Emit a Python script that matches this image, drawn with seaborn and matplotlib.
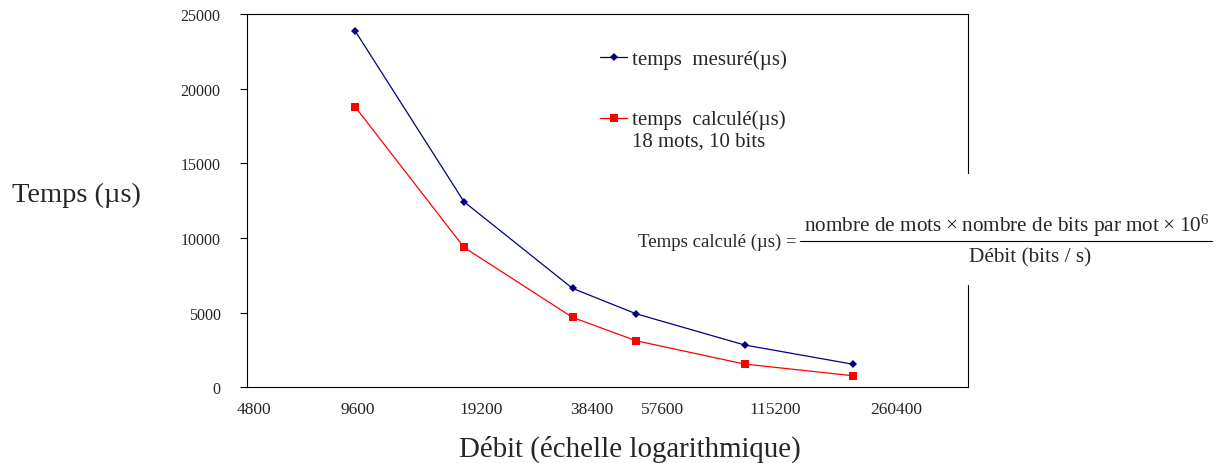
import matplotlib
matplotlib.use('Agg')
import numpy as np
import pandas as pd
import matplotlib.pyplot as plt
import seaborn as sns
from matplotlib.legend_handler import HandlerLine2D
from matplotlib.patches import Rectangle
from matplotlib.lines import Line2D

# données
debit = [9600, 19200, 38400, 57600, 115200, 230400]
temps_mesure = [23830, 12430, 6630, 4930, 2840, 1550]
temps_calcule = [18750, 9375, 4687.5, 3125, 1562.5, 781.25]

label_mesure = 'temps  mesuré(µs)'
label_calcule = 'temps  calculé(µs)\n18 mots, 10 bits'

x_labels = ['4800', '9600', '19200', '38400', '57600', '115200', '260400']
x_label_pos = [5020, 9755, 21400, 43500, 68000, 140000, 303400]
x_major = [4800, 9600, 19200, 38400, 57600, 115200, 230400, 460800]
x_minor = [14400, 24000, 28800, 33600, 43200, 48000, 96000, 144000, 192000,
           240000, 288000, 336000, 384000, 432000]
y_ticks = [0, 5000, 10000, 15000, 20000, 25000]

df = pd.DataFrame({
    'debit': debit * 2,
    'temps': temps_mesure + temps_calcule,
    'serie': [label_mesure] * len(debit) + [label_calcule] * len(debit),
})


class HandlerDecale(HandlerLine2D):
    # marqueur aligné sur la première ligne du libellé
    def create_artists(self, legend, orig_handle, xdescent, ydescent, width, height, fontsize, trans):
        artists = super().create_artists(legend, orig_handle, xdescent, ydescent,
                                         width, height, fontsize, trans)
        for a in artists:
            a.set_ydata(np.asarray(a.get_ydata()) + 8.5)
        return artists


sns.set_style('white')
plt.rcParams['font.family'] = ['Liberation Serif', 'DejaVu Serif']
plt.rcParams['mathtext.fontset'] = 'custom'
plt.rcParams['mathtext.rm'] = 'Liberation Serif'
plt.rcParams['mathtext.it'] = 'Liberation Serif:italic'

fig = plt.figure(figsize=(12.19, 4.64), dpi=100)
ax = fig.add_axes([0.2026, 0.1629, 0.5915, 0.8048])

sns.lineplot(data=df, x='debit', y='temps', hue='serie', style='serie',
             palette=['#000080', '#FF0000'], markers=['D', 's'], dashes=False,
             linewidth=0.9, markeredgewidth=0, ax=ax)
ax.lines[0].set_markersize(4.5)
ax.lines[1].set_markersize(5.2)

ax.set_xscale('log')
ax.set_xlim(4800, 480000)
ax.set_ylim(0, 25000)

ax.set_xticks(x_major)
ax.set_xticklabels([''] * len(x_major))
ax.set_xticks(x_minor, minor=True)
ax.set_xticklabels([''] * len(x_minor), minor=True)
ax.tick_params(axis='x', which='major', direction='inout', length=7, width=0.8, color='black')
ax.tick_params(axis='x', which='minor', direction='inout', length=4, width=0.8, color='black')

ax.set_yticks(y_ticks)
ax.set_yticklabels([str(v) for v in y_ticks])
ax.tick_params(axis='y', which='major', direction='out', length=5, width=0.8,
               color='black', labelsize=11.5, pad=14, left=True)

sec = ax.secondary_xaxis('bottom')
sec.set_xticks(x_label_pos)
sec.set_xticklabels(x_labels)
sec.xaxis.set_minor_locator(matplotlib.ticker.NullLocator())
sec.tick_params(length=0, labelsize=12.5, pad=10)
sec.spines['bottom'].set_visible(False)

for s in ax.spines.values():
    s.set_visible(True)
    s.set_color('black')
    s.set_linewidth(0.8)

ax.set_xlabel('Débit (échelle logarithmique)', fontsize=20.8, va='center')
ax.xaxis.set_label_coords(0.531, -0.162)
ax.set_ylabel('Temps (µs)', fontsize=20.5, rotation=0, ha='center', va='center')
ax.yaxis.set_label_coords(-0.237, 0.518)

handles, labels = ax.get_legend_handles_labels()
handles[0].set_markersize(4.5)
handles[1].set_markersize(5.2)
for h in handles:
    h.set_markeredgewidth(0)
ax.legend(handles, labels, loc='upper left', bbox_to_anchor=(0.4896, 0.906),
          frameon=False, fontsize=15, handlelength=1.3, handletextpad=0.25,
          labelspacing=1.95, borderpad=0, borderaxespad=0,
          handler_map={handles[1]: HandlerDecale()})

# formule du temps calculé, sur fond blanc qui masque le bord droit
fig.add_artist(Rectangle((0.515, 0.3836), 0.485, 0.2392, transform=fig.transFigure,
                         facecolor='white', edgecolor='none', zorder=2.5))
fig.text(0.6538, 0.4784, 'Temps calculé (µs) =', fontsize=13.5, ha='right', va='center')
fig.text(0.8261, 0.5129, 'nombre de mots\u2009×\u2009nombre de bits par mot\u2009×\u200910$^{6}$',
         fontsize=15.3, ha='center', va='center')
fig.add_artist(Line2D([0.6563, 0.9943], [0.4784, 0.4784], transform=fig.transFigure,
                      color='black', linewidth=0.8, zorder=3))
fig.text(0.845, 0.4440, 'Débit (bits / s)', fontsize=15.3, ha='center', va='center')

fig.savefig('out.png', dpi=100)
